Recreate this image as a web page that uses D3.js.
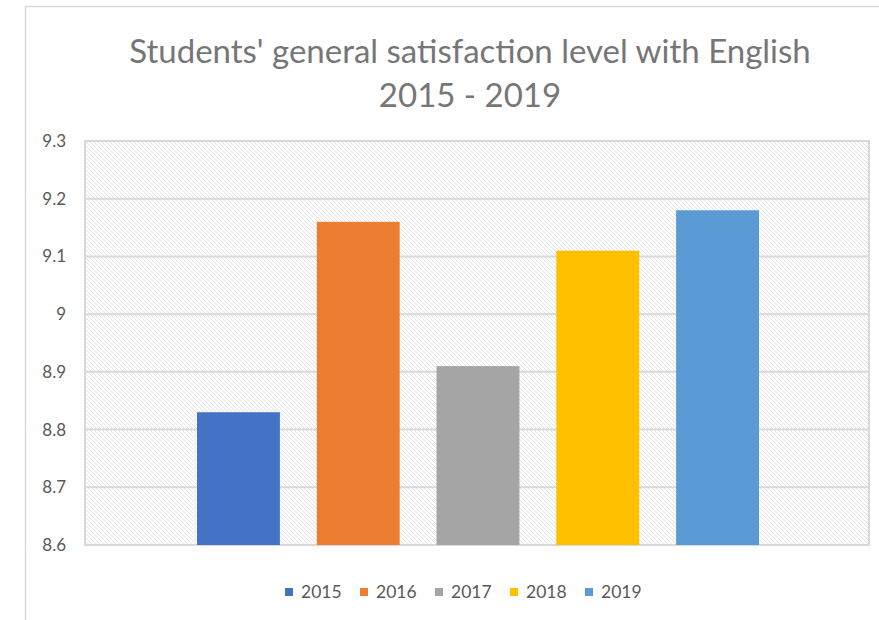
<!DOCTYPE html>
<html>
<head>
<meta charset="utf-8">
<script src="https://cdn.jsdelivr.net/npm/d3@7"></script>
<style>
  body { margin: 0; background: #fff; }
  svg { display: block; font-family: Lato, "Open Sans", sans-serif; }
</style>
</head>
<body>
<div id="chart"></div>
<script>
// data
var years = ["2015", "2016", "2017", "2018", "2019"];
var scores = [8.83, 9.16, 8.91, 9.11, 9.18];
var colors = ["#4472c4", "#ed7d31", "#a5a5a5", "#ffc000", "#5b9bd5"];
var yTicks = [8.6, 8.7, 8.8, 8.9, 9, 9.1, 9.2, 9.3];
var titleLines = ["Students' general satisfaction level with English", "2015 - 2019"];

var width = 879, height = 620;
var plot = {left: 85, top: 141, right: 869, bottom: 545};

var svg = d3.select("#chart").append("svg")
	.attr("width", width)
	.attr("height", height);

// hatch pattern for the plot background
var defs = svg.append("defs");
var pat = defs.append("pattern")
	.attr("id", "hatch")
	.attr("patternUnits", "userSpaceOnUse")
	.attr("width", 4)
	.attr("height", 4);
pat.append("rect").attr("width", 4).attr("height", 4).attr("fill", "#fff");
pat.append("path")
	.attr("d", "M-1,-1 L5,5 M-1,3 L1,5 M3,-1 L5,1")
	.attr("stroke", "#e2e2e2")
	.attr("stroke-width", 1);

// chart frame
svg.append("rect")
	.attr("x", 25.5).attr("y", 6.5)
	.attr("width", 900).attr("height", 700)
	.attr("fill", "#fff")
	.attr("stroke", "#d9d9d9")
	.attr("stroke-width", 1.5);

// title
svg.append("g").selectAll("text")
	.data(titleLines)
	.enter().append("text")
	.attr("x", 470)
	.attr("y", function(d, i) { return 63 + i * 44; })
	.attr("text-anchor", "middle")
	.attr("font-size", 33)
	.attr("fill", "#767676")
	.text(function(d) { return d; });

var y = d3.scaleLinear()
	.domain([8.6, 9.3])
	.range([plot.bottom, plot.top]);

var x = d3.scaleBand()
	.domain(years)
	.range([plot.left + 112, plot.right - 110])
	.paddingInner(0.308)
	.paddingOuter(0);

// plot background
svg.append("rect")
	.attr("x", plot.left).attr("y", plot.top)
	.attr("width", plot.right - plot.left)
	.attr("height", plot.bottom - plot.top)
	.attr("fill", "url(#hatch)")
	.attr("stroke", "#d9d9d9")
	.attr("stroke-width", 2);

// gridlines
svg.append("g").selectAll("line")
	.data(yTicks)
	.enter().append("line")
	.attr("x1", plot.left).attr("x2", plot.right)
	.attr("y1", function(d) { return y(d); })
	.attr("y2", function(d) { return y(d); })
	.attr("stroke", "#d9d9d9")
	.attr("stroke-width", 2);

// y axis
var yAxis = svg.append("g")
	.attr("transform", "translate(" + (plot.left - 19) + ",0)")
	.call(d3.axisLeft(y).tickValues(yTicks).tickSize(0).tickPadding(0)
		.tickFormat(function(d) { return String(+d.toFixed(1)); }));
yAxis.select(".domain").remove();
yAxis.selectAll("text")
	.attr("font-size", 17)
	.attr("font-family", "Lato, 'Open Sans', sans-serif")
	.attr("fill", "#595959");

// bars
svg.append("g").selectAll("rect")
	.data(scores)
	.enter().append("rect")
	.attr("x", function(d, i) { return x(years[i]); })
	.attr("y", function(d) { return y(d); })
	.attr("width", x.bandwidth())
	.attr("height", function(d) { return plot.bottom - y(d); })
	.attr("fill", function(d, i) { return colors[i]; });

// legend
var legend = svg.append("g").selectAll("g")
	.data(years)
	.enter().append("g")
	.attr("transform", function(d, i) { return "translate(" + (285 + i * 75) + ",592)"; });
legend.append("rect")
	.attr("x", 0).attr("y", -4)
	.attr("width", 8).attr("height", 8)
	.attr("fill", function(d, i) { return colors[i]; });
legend.append("text")
	.attr("x", 16)
	.attr("dy", "0.35em")
	.attr("font-size", 17.5)
	.attr("fill", "#595959")
	.text(function(d) { return d; });
</script>
</body>
</html>
